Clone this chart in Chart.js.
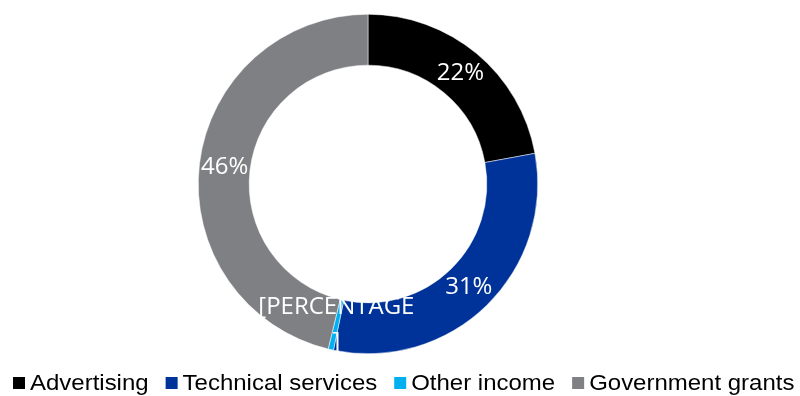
<!DOCTYPE html>
<html>
<head>
<meta charset="utf-8">
<script src="https://cdn.jsdelivr.net/npm/chart.js@4/dist/chart.umd.min.js"></script>
<style>
  html, body { margin: 0; padding: 0; background: #ffffff; }
  #wrap { width: 800px; height: 396px; position: relative; }
</style>
</head>
<body>
<div id="wrap"><canvas id="chart"></canvas></div>
<script>
// Revenue breakdown by source
const categories = ['Advertising', 'Technical services', 'Other income', 'Government grants'];
const shares = [22, 31, 0.5, 46];
const sliceColors = ['#000000', '#003399', '#00B0F0', '#7F8084'];
// Slice label text; the "Other income" label keeps its unfilled field placeholder
const labelOverrides = [null, null, ['[PERCENTAGE', ']'], null];

// White value labels drawn at each slice's centroid
const sliceLabels = {
  id: 'sliceLabels',
  afterDatasetsDraw(chart) {
    const ctx = chart.ctx;
    const meta = chart.getDatasetMeta(0);
    const values = chart.data.datasets[0].data;
    ctx.save();
    ctx.font = '24px "Open Sans", "Noto Sans", sans-serif';
    ctx.fillStyle = '#ffffff';
    ctx.textAlign = 'center';
    ctx.textBaseline = 'middle';
    const lineH = 35;
    meta.data.forEach((arc, i) => {
      const p = arc.tooltipPosition();
      const lines = labelOverrides[i] || [Math.round(values[i]) + '%'];
      const top = p.y - (lines.length - 1) * lineH / 2;
      lines.forEach((t, k) => ctx.fillText(t, p.x, top + k * lineH));
    });
    ctx.restore();
  }
};

// Single-row legend with square markers under the ring
const bottomLegend = {
  id: 'bottomLegend',
  afterDraw(chart) {
    const ctx = chart.ctx;
    const ds = chart.data.datasets[0];
    const box = 12, boxGap = 5, itemGap = 17, stretch = 1.09;
    ctx.save();
    ctx.font = '22px "Liberation Sans", Arial, sans-serif';
    const widths = chart.data.labels.map(l => ctx.measureText(l).width * stretch);
    let x = 13;
    const baseline = 390;
    ctx.textAlign = 'left';
    ctx.textBaseline = 'alphabetic';
    chart.data.labels.forEach((l, i) => {
      ctx.fillStyle = ds.backgroundColor[i];
      ctx.fillRect(x, 377, box, box);
      x += box + boxGap;
      ctx.fillStyle = '#000000';
      ctx.save();
      ctx.translate(x, baseline);
      ctx.scale(stretch, 1);
      ctx.fillText(l, 0, 0);
      ctx.restore();
      x += widths[i] + itemGap;
    });
    ctx.restore();
  }
};

new Chart(document.getElementById('chart'), {
  type: 'doughnut',
  data: {
    labels: categories,
    datasets: [{
      data: shares,
      backgroundColor: sliceColors,
      borderColor: '#ffffff',
      borderWidth: 0.5
    }]
  },
  options: {
    responsive: true,
    maintainAspectRatio: false,
    animation: false,
    cutout: '70%',
    layout: { padding: { top: 14, bottom: 42, left: 0, right: 64 } },
    plugins: {
      legend: { display: false },
      tooltip: { enabled: false }
    }
  },
  plugins: [sliceLabels, bottomLegend]
});
</script>
</body>
</html>
